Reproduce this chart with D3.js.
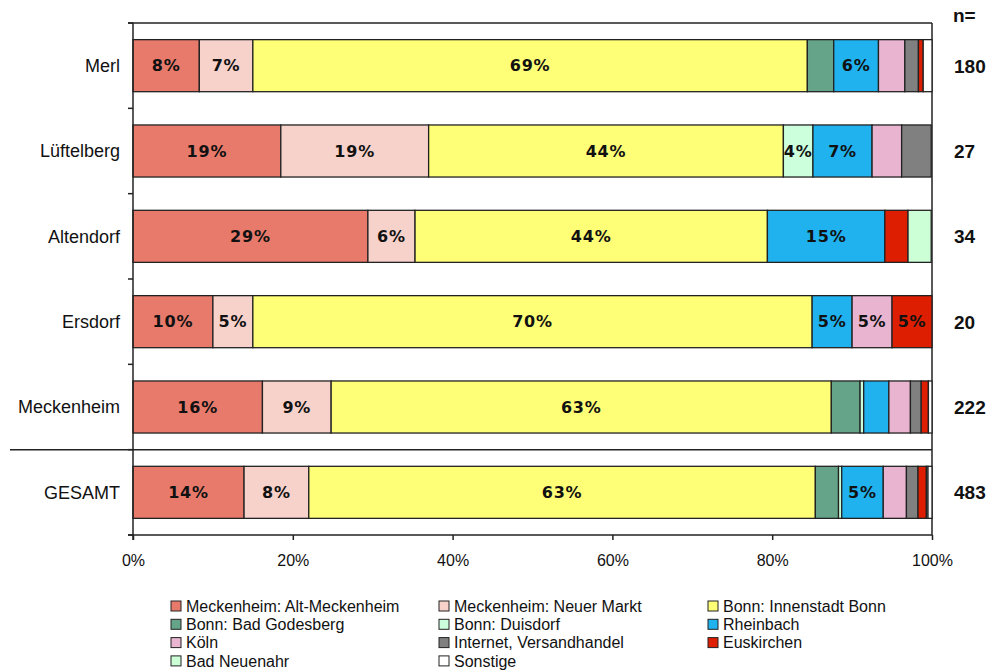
<!DOCTYPE html>
<html>
<head>
<meta charset="utf-8">
<script src="https://cdn.jsdelivr.net/npm/d3@7"></script>
<style>
  html, body { margin: 0; padding: 0; background: #fff; }
  svg { display: block; }
</style>
</head>
<body>
<svg id="chart" width="986" height="670"></svg>
<script>
// Locations (rows, top to bottom) and respondent counts
const categories = ["Merl", "Lüftelberg", "Altendorf", "Ersdorf", "Meckenheim", "GESAMT"];
const nValues = [180, 27, 34, 20, 222, 483];

// Shopping destinations (stack order, left to right)
const seriesNames = [
  "Meckenheim: Alt-Meckenheim", "Meckenheim: Neuer Markt", "Bonn: Innenstadt Bonn",
  "Bonn: Bad Godesberg", "Bonn: Duisdorf", "Rheinbach",
  "Köln", "Internet, Versandhandel", "Euskirchen",
  "Bad Neuenahr", "Sonstige"
];
const seriesColors = [
  "#e87a6b", "#f7d2cb", "#ffff77",
  "#66a48a", "#ccffdc", "#1fb2ef",
  "#e8b4d0", "#808080", "#dd1e00",
  "#ccffd6", "#ffffff"
];

// Shares in percent, one array per destination, in row order
const altMeckenheim = [8.3, 18.5, 29.4, 10.0, 16.2, 13.9];
const neuerMarkt    = [6.7, 18.5,  5.9,  5.0,  8.6,  8.1];
const innenstadt    = [69.4, 44.4, 44.1, 70.0, 62.6, 63.4];
const badGodesberg  = [3.3,  0.0,  0.0,  0.0,  3.6,  2.9];
const duisdorf      = [0.0,  3.7,  0.0,  0.0,  0.45, 0.4];
const rheinbach     = [5.6,  7.4, 14.7,  5.0,  3.15, 5.2];
const koeln         = [3.3,  3.7,  0.0,  5.0,  2.7,  2.9];
const internet      = [1.7,  3.7,  0.0,  0.0,  1.35, 1.45];
const euskirchen    = [0.6,  0.0,  2.9,  5.0,  0.9,  1.05];
const badNeuenahr   = [0.0,  0.0,  2.9,  0.0,  0.0,  0.2];
const sonstige      = [1.1,  0.0,  0.0,  0.0,  0.45, 0.5];
const seriesValues = [altMeckenheim, neuerMarkt, innenstadt, badGodesberg, duisdorf,
  rheinbach, koeln, internet, euskirchen, badNeuenahr, sonstige];

// Which segments carry a value label: [row, series]
const labelled = [
  [0,0],[0,1],[0,2],[0,5],
  [1,0],[1,1],[1,2],[1,4],[1,5],
  [2,0],[2,1],[2,2],[2,5],
  [3,0],[3,1],[3,2],[3,5],[3,6],[3,8],
  [4,0],[4,1],[4,2],
  [5,0],[5,1],[5,2],[5,5]
];

const xTicks = [0, 20, 40, 60, 80, 100];

const svg = d3.select("#chart");
const margin = { left: 133, right: 54, top: 23, bottom: 135 };
const W = 986, H = 670;
const plotR = W - margin.right, plotB = H - margin.bottom;

const x = d3.scaleLinear().domain([0, 100]).range([margin.left, plotR]);
const y = d3.scaleBand().domain(categories).range([margin.top, plotB])
  .paddingInner(0.39).paddingOuter(0.195);

// Stack table built from the arrays
const table = categories.map((c, i) => {
  const row = { cat: c };
  seriesNames.forEach((s, j) => { row[s] = seriesValues[j][i]; });
  return row;
});
const stacked = d3.stack().keys(seriesNames)(table);

// Plot frame: top and right border
svg.append("line").attr("x1", margin.left - 5).attr("x2", plotR)
  .attr("y1", margin.top).attr("y2", margin.top)
  .attr("stroke", "#222").attr("stroke-width", 1.5);
svg.append("line").attr("x1", plotR).attr("x2", plotR)
  .attr("y1", margin.top).attr("y2", plotB)
  .attr("stroke", "#222").attr("stroke-width", 1.5);

// Separator between the locations and the total
const sepY = (y("Meckenheim") + y.bandwidth() + y("GESAMT")) / 2;
svg.append("line").attr("x1", 10).attr("x2", plotR)
  .attr("y1", sepY).attr("y2", sepY)
  .attr("stroke", "#222").attr("stroke-width", 1.5);

// Segments
const labelSet = new Set(labelled.map(d => d[0] + "-" + d[1]));
stacked.forEach((layer, j) => {
  const g = svg.append("g");
  layer.forEach((d, i) => {
    if (d[1] - d[0] <= 0) return;
    g.append("rect")
      .attr("x", x(d[0])).attr("y", y(categories[i]))
      .attr("width", x(d[1]) - x(d[0])).attr("height", y.bandwidth())
      .attr("fill", seriesColors[j])
      .attr("stroke", "#222").attr("stroke-width", 1.3);
    if (labelSet.has(i + "-" + j)) {
      g.append("text")
        .attr("x", (x(d[0]) + x(d[1])) / 2)
        .attr("y", y(categories[i]) + y.bandwidth() / 2)
        .attr("dy", "0.36em").attr("text-anchor", "middle")
        .attr("font-family", "'DejaVu Sans', Verdana, sans-serif")
        .attr("font-weight", "bold").attr("font-size", 16)
        .attr("letter-spacing", 0.8)
        .attr("fill", "#111")
        .text(Math.round(d[1] - d[0]) + "%");
    }
  });
});

// Y axis (category labels)
const yAxis = svg.append("g").attr("transform", `translate(${margin.left},0)`);
yAxis.append("line").attr("x1", 0).attr("x2", 0)
  .attr("y1", margin.top).attr("y2", plotB + 5)
  .attr("stroke", "#222").attr("stroke-width", 1.5);
const bounds = categories.map(c => y(c) - y.step() * y.paddingInner() / 2).concat([plotB]);
bounds.forEach(b => {
  yAxis.append("line").attr("x1", -5).attr("x2", 0).attr("y1", b).attr("y2", b)
    .attr("stroke", "#222").attr("stroke-width", 1.5);
});
categories.forEach(c => {
  yAxis.append("text").attr("x", -13).attr("y", y(c) + y.bandwidth() / 2)
    .attr("dy", "0.36em").attr("text-anchor", "end")
    .attr("font-family", "'Liberation Sans', Arial, sans-serif")
    .attr("font-size", 18).attr("fill", "#111").text(c);
});

// X axis
const xAxis = svg.append("g").attr("transform", `translate(0,${plotB})`)
  .call(d3.axisBottom(x).tickValues(xTicks).tickSize(5).tickFormat(d => d + "%"));
xAxis.select(".domain").attr("stroke", "#222").attr("stroke-width", 1.5)
  .attr("d", `M${margin.left - 5},0H${plotR}`);
xAxis.selectAll(".tick line").attr("stroke", "#222").attr("stroke-width", 1.5);
xAxis.selectAll(".tick text").attr("font-family", "'Liberation Sans', Arial, sans-serif")
  .attr("font-size", 16).attr("fill", "#111").attr("dy", "1.45em");

// Respondent counts
svg.append("text").attr("x", 953).attr("y", 22)
  .attr("font-family", "'Liberation Sans', Arial, sans-serif")
  .attr("font-weight", "bold").attr("font-size", 19).attr("fill", "#111").text("n=");
categories.forEach((c, i) => {
  svg.append("text").attr("x", 954).attr("y", y(c) + y.bandwidth() / 2)
    .attr("dy", "0.36em")
    .attr("font-family", "'Liberation Sans', Arial, sans-serif")
    .attr("font-weight", "bold").attr("font-size", 19).attr("fill", "#111")
    .text(nValues[i]);
});

// Legend: three columns, filled row by row
const legend = svg.append("g");
const colX = [171, 439, 708], rowY0 = 606, rowStep = 18.3;
seriesNames.forEach((s, j) => {
  const cx = colX[j % 3], cy = rowY0 + Math.floor(j / 3) * rowStep;
  legend.append("rect").attr("x", cx).attr("y", cy - 5).attr("width", 10).attr("height", 10)
    .attr("fill", seriesColors[j]).attr("stroke", "#222").attr("stroke-width", 1);
  legend.append("text").attr("x", cx + 15).attr("y", cy).attr("dy", "0.36em")
    .attr("font-family", "'Liberation Sans Narrow', 'Arial Narrow', sans-serif")
    .attr("font-size", 16).attr("fill", "#111").text(s);
});
</script>
</body>
</html>
